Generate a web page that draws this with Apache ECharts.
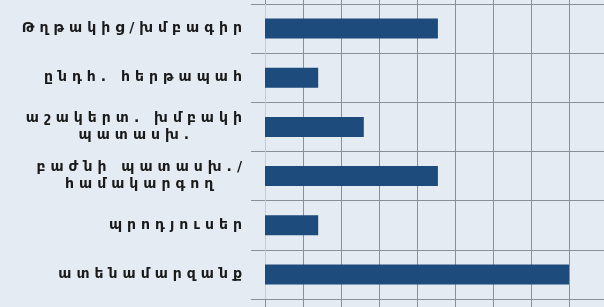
<!DOCTYPE html>
<html>
<head>
<meta charset="utf-8">
<script src="https://cdn.jsdelivr.net/npm/echarts@6/dist/echarts.min.js"></script>
<style>
  html, body { margin: 0; padding: 0; background: #e4ebf3; }
  #chart { width: 604px; height: 307px; }
</style>
</head>
<body>
<div id="chart"></div>
<script>
const categories = [
  'Թղթակից/խմբագիր',
  'ընդհ. հերթապահ',
  'աշակերտ. խմբակի\nպատասխ.',
  'բաժնի պատասխ./\nհամակարգող',
  'պրոդյուսեր',
  'ատենամարզանք'
]
const values = [4.55, 1.4, 2.6, 4.55, 1.4, 8]
// the reference is cropped just before the 9 grid line
const xMax = 9

const gridColor = '#8a9099'
const labelFont = 'bold 14px "DejaVu Sans"'
const spacing = 5
const gridLeft = 265
const labelRight = 242

const el = document.getElementById('chart')
const chart = echarts.init(el)

const measureCtx = document.createElement('canvas').getContext('2d')
measureCtx.font = labelFont
measureCtx.letterSpacing = spacing + 'px'
const lineWidth = (s) => measureCtx.measureText(s).width - spacing

const labelStyle = {
  color: '#1a1a1a',
  fontFamily: 'DejaVu Sans',
  fontWeight: 'bold',
  fontSize: 14,
  lineHeight: 17
}

// single-line labels on the main axis, each two-line label centred on its own axis
const multi = categories.map((c, i) => c.includes('\n') ? i : -1).filter(i => i >= 0)

const yAxes = [{
  type: 'category',
  inverse: true,
  data: categories,
  axisLine: { show: true, lineStyle: { color: '#c3ccd6' } },
  axisTick: { show: true, length: 14, lineStyle: { color: gridColor } },
  splitLine: { show: true, lineStyle: { color: gridColor } },
  axisLabel: {
    ...labelStyle,
    margin: gridLeft - labelRight - spacing,
    formatter: (v, i) => multi.includes(i) ? '' : v
  }
}]

multi.forEach((idx) => {
  const w = Math.max(...categories[idx].split('\n').map(lineWidth))
  const cx = labelRight - w / 2 + spacing / 2
  yAxes.push({
    type: 'category',
    position: 'left',
    inverse: true,
    data: categories,
    axisLine: { show: false },
    axisTick: { show: false },
    splitLine: { show: false },
    axisLabel: {
      ...labelStyle,
      align: 'center',
      margin: gridLeft - cx,
      formatter: (v, i) => i === idx ? v : ''
    }
  })
})

const option = {
  backgroundColor: '#e4ebf3',
  animation: false,
  grid: {
    left: gridLeft,
    width: 342,
    top: 4,
    bottom: 8,
    outerBoundsMode: 'none'
  },
  xAxis: [{
    type: 'value',
    min: 0,
    max: xMax,
    interval: 1,
    axisLabel: { show: false },
    axisLine: { show: false },
    axisTick: { show: true, length: 8, lineStyle: { color: gridColor } },
    splitLine: { lineStyle: { color: gridColor, width: 1 } }
  }, {
    type: 'value',
    position: 'top',
    min: 0,
    max: xMax,
    interval: 1,
    axisLabel: { show: false },
    axisLine: { show: false },
    axisTick: { show: true, length: 4, lineStyle: { color: gridColor } },
    splitLine: { show: false }
  }],
  yAxis: yAxes,
  series: [{
    type: 'bar',
    data: values,
    barWidth: 20,
    itemStyle: { color: '#1d4b7c' }
  }]
}

chart.setOption(option)

// the reference labels are set with wide letter spacing; the canvas only exists after the first render
el.querySelectorAll('canvas').forEach(c => { c.getContext('2d').letterSpacing = spacing + 'px' })
chart.clear()
chart.setOption(option)
</script>
</body>
</html>
